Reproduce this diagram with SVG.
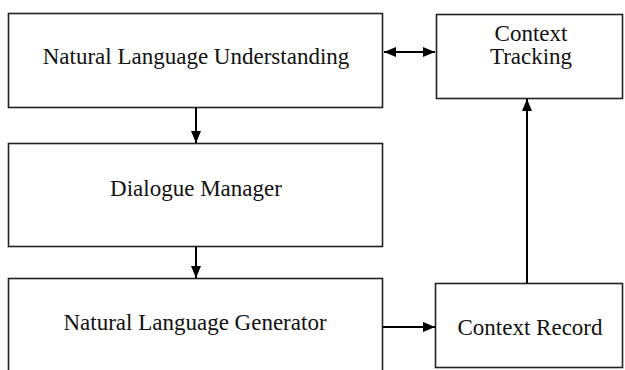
<svg xmlns="http://www.w3.org/2000/svg" width="625" height="370" viewBox="0 0 625 370">
<style>
.box{fill:#fff;stroke:#222;stroke-width:1.6}
text{font-family:'Liberation Serif','Times New Roman','DejaVu Serif',serif;font-size:23px;fill:#111;text-anchor:middle}
.c{stroke:#000;stroke-width:2;fill:none}
</style>
<defs>
<marker id="ah" viewBox="0 0 12 10" refX="12" refY="5" markerWidth="12" markerHeight="10" markerUnits="userSpaceOnUse" orient="auto-start-reverse">
<path d="M0,0 L12,5 L0,10 Z" fill="#000"/>
</marker>
</defs>
<rect width="625" height="370" fill="#fff"/>
<g id="nlu"><rect class="box" x="8.5" y="13.5" width="374" height="94"/><text x="196" y="64">Natural Language Understanding</text></g>
<g id="ct"><rect class="box" x="436.5" y="14.5" width="186" height="84"/><text x="531" y="41">Context</text><text x="531" y="64">Tracking</text></g>
<g id="dm"><rect class="box" x="8.5" y="143.5" width="374" height="103"/><text x="196" y="196">Dialogue Manager</text></g>
<g id="nlg"><rect class="box" x="8.5" y="278.5" width="374" height="110"/><text x="195" y="330">Natural Language Generator</text></g>
<g id="cr"><rect class="box" x="435.5" y="283.5" width="187" height="84"/><text x="530" y="335">Context Record</text></g>
<g id="connectors">
<line class="c" x1="384" y1="52" x2="435" y2="52" marker-start="url(#ah)" marker-end="url(#ah)"/>
<line class="c" x1="196" y1="108" x2="196" y2="143" marker-end="url(#ah)"/>
<line class="c" x1="196" y1="247" x2="196" y2="278" marker-end="url(#ah)"/>
<line class="c" x1="383" y1="327" x2="435" y2="327" marker-end="url(#ah)"/>
<line class="c" x1="527" y1="283" x2="527" y2="99" marker-end="url(#ah)"/>
</g>
</svg>
